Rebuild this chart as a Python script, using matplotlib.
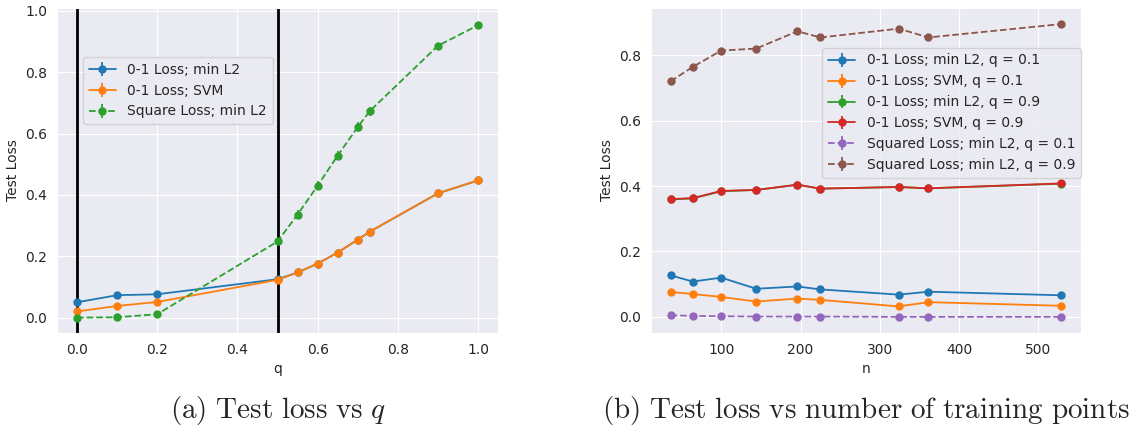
import numpy as np
import matplotlib
matplotlib.use('Agg')
import matplotlib.pyplot as plt
import seaborn as sns

sns.set_style('darkgrid')
plt.rcParams['font.family'] = ['DejaVu Sans']
plt.rcParams['mathtext.fontset'] = 'cm'

# (a) test loss vs q
q = [0.0, 0.1, 0.2, 0.5, 0.55, 0.6, 0.65, 0.7, 0.73, 0.9, 1.0]
l2_01 = [0.050, 0.073, 0.076, 0.125, 0.147, 0.176, 0.212, 0.254, 0.280, 0.405, 0.447]
l2_01_err = [0.003, 0.003, 0.003, 0.003, 0.003, 0.003, 0.003, 0.003, 0.003, 0.003, 0.003]
svm_01 = [0.020, 0.038, 0.051, 0.123, 0.147, 0.176, 0.212, 0.254, 0.280, 0.405, 0.447]
svm_01_err = [0.003, 0.003, 0.003, 0.003, 0.003, 0.003, 0.003, 0.003, 0.003, 0.003, 0.003]
sq_l2 = [0.000, 0.001, 0.011, 0.248, 0.336, 0.430, 0.528, 0.621, 0.673, 0.886, 0.953]
sq_l2_err = [0.002, 0.002, 0.003, 0.010, 0.014, 0.015, 0.015, 0.015, 0.015, 0.010, 0.008]

# (b) test loss vs n
n = [36, 64, 100, 144, 196, 225, 324, 361, 529]
l2_q1 = [0.127, 0.108, 0.120, 0.086, 0.093, 0.084, 0.068, 0.077, 0.066]
svm_q1 = [0.076, 0.070, 0.061, 0.047, 0.056, 0.052, 0.032, 0.045, 0.034]
l2_q9 = [0.359, 0.362, 0.384, 0.388, 0.404, 0.392, 0.397, 0.393, 0.407]
svm_q9 = [0.360, 0.363, 0.385, 0.388, 0.404, 0.392, 0.397, 0.393, 0.408]
sq_q1 = [0.005, 0.003, 0.002, 0.001, 0.001, 0.001, 0.000, 0.000, 0.000]
sq_q9 = [0.720, 0.764, 0.814, 0.820, 0.873, 0.854, 0.881, 0.854, 0.895]
err_b = [0.004, 0.004, 0.004, 0.004, 0.004, 0.004, 0.004, 0.004, 0.004]

fig = plt.figure(figsize=(11.31, 4.33), dpi=100)
ax1 = fig.add_axes([0.0504, 0.231, 0.390, 0.7506])
ax2 = fig.add_axes([0.5756, 0.231, 0.3802, 0.7506])

kw = dict(marker='o', markersize=5, linewidth=1.3)
ax1.errorbar(q, l2_01, yerr=l2_01_err, color='#1f77b4', label='0-1 Loss; min L2', **kw)
ax1.errorbar(q, svm_01, yerr=svm_01_err, color='#ff7f0e', label='0-1 Loss; SVM', **kw)
ax1.errorbar(q, sq_l2, yerr=sq_l2_err, color='#2ca02c', linestyle='--',
             label='Square Loss; min L2', **kw)
ax1.axvline(0.0, color='black', linewidth=2)
ax1.axvline(0.5, color='black', linewidth=2)
ax1.set_xlabel('q', fontsize=10)
ax1.set_ylabel('Test Loss', fontsize=10)
ax1.tick_params(labelsize=10)
ax1.legend(loc='upper left', bbox_to_anchor=(0.059, 0.849), borderaxespad=0,
           fontsize=10)

ax2.errorbar(n, l2_q1, yerr=err_b, color='#1f77b4', label='0-1 Loss; min L2, q = 0.1', **kw)
ax2.errorbar(n, svm_q1, yerr=err_b, color='#ff7f0e', label='0-1 Loss; SVM, q = 0.1', **kw)
ax2.errorbar(n, l2_q9, yerr=err_b, color='#2ca02c', label='0-1 Loss; min L2, q = 0.9', **kw)
ax2.errorbar(n, svm_q9, yerr=err_b, color='#d62728', label='0-1 Loss; SVM, q = 0.9', **kw)
ax2.errorbar(n, sq_q1, yerr=err_b, color='#9467bd', linestyle='--',
             label='Squared Loss; min L2, q = 0.1', **kw)
ax2.errorbar(n, sq_q9, yerr=err_b, color='#8c564b', linestyle='--',
             label='Squared Loss; min L2, q = 0.9', **kw)
ax2.set_xlabel('n', fontsize=10)
ax2.set_ylabel('Test Loss', fontsize=10)
ax2.tick_params(labelsize=10)
ax2.legend(loc='upper left', bbox_to_anchor=(0.398, 0.877), borderaxespad=0,
           fontsize=10)

fig.text(0.2455, 0.052, r'$\mathrm{(a)\ Test\ loss\ vs\ }q$', ha='center', va='center',
         fontsize=21)
fig.text(0.7657, 0.052, r'$\mathrm{(b)\ Test\ loss\ vs\ number\ of\ training\ points}$',
         ha='center', va='center', fontsize=21)

fig.savefig('out.png', dpi=100)
